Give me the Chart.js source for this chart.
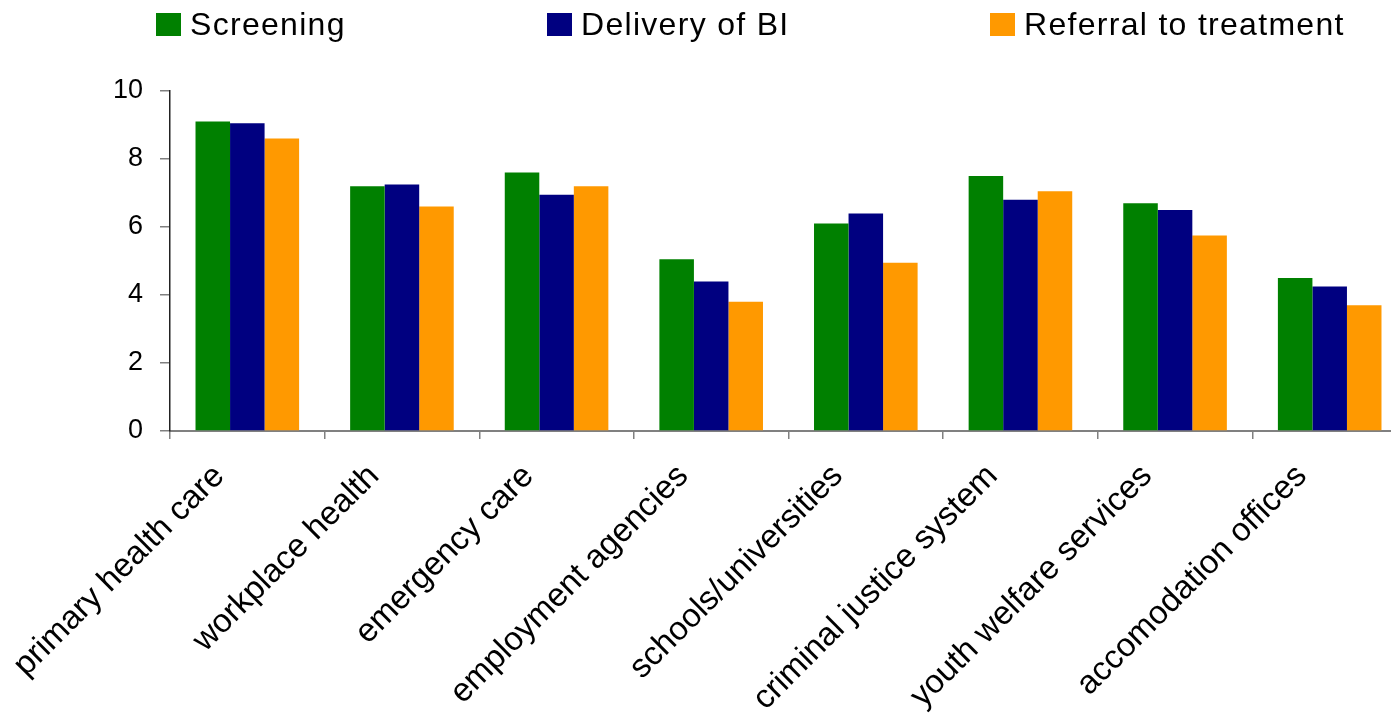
<!DOCTYPE html>
<html>
<head>
<meta charset="utf-8">
<style>
    html, body { margin: 0; padding: 0; overflow: hidden; background: #fff; }
    #wrap { position: relative; width: 1391px; height: 713px; overflow: hidden; }
    #chart { position: absolute; left: 0; top: 0; }
    .legend-item { position: absolute; top: 1px; height: 46px; display: flex; align-items: center;
        font-family: "Liberation Sans", Arial, sans-serif; font-size: 32px; letter-spacing: 1.3px; color: #000; }
    .legend-box { width: 25px; height: 23px; margin-right: 9px; }
</style>
</head>
<body>
<div id="wrap">
    <canvas id="chart" width="1410" height="713"></canvas>
    <div id="legend"></div>
</div>

<script src="https://cdn.jsdelivr.net/npm/chart.js"></script>
<script>
    // Categories and series
    const categories = ['primary health care', 'workplace health', 'emergency care', 'employment agencies',
        'schools/universities', 'criminal justice system', 'youth welfare services', 'accomodation offices'];
    const seriesNames = ['Screening', 'Delivery of BI', 'Referral to treatment'];
    const screening = [9.1, 7.2, 7.6, 5.05, 6.1, 7.5, 6.7, 4.5];
    const deliveryBI = [9.05, 7.25, 6.95, 4.4, 6.4, 6.8, 6.5, 4.25];
    const referral = [8.6, 6.6, 7.2, 3.8, 4.95, 7.05, 5.75, 3.7];
    const yTicks = [0, 2, 4, 6, 8, 10];

    const colors = ['#008000', '#000080', '#FF9900'];
    const values = [screening, deliveryBI, referral];
    const font = '"Liberation Sans", Arial, sans-serif';

    // html legend, spaced like the original
    const legendLeft = [156, 547, 990];
    const legend = document.getElementById('legend');
    seriesNames.forEach((name, i) => {
        const item = document.createElement('div');
        item.className = 'legend-item';
        item.style.left = legendLeft[i] + 'px';
        item.innerHTML = '<div class="legend-box" style="background:' + colors[i] + '"></div><span>' + name + '</span>';
        legend.appendChild(item);
    });

    const ctx = document.getElementById('chart').getContext('2d');
    new Chart(ctx, {
        type: 'bar',
        data: {
            labels: categories,
            datasets: seriesNames.map((name, i) => ({
                label: name,
                data: values[i],
                backgroundColor: colors[i],
                borderWidth: 0,
                categoryPercentage: 0.67,
                barPercentage: 1.0
            }))
        },
        options: {
            responsive: false,
            animation: false,
            layout: { padding: { top: 91, right: 3, left: 0, bottom: 0 } },
            plugins: {
                legend: { display: false },
                tooltip: { enabled: false }
            },
            scales: {
                x: {
                    afterFit: function (scale) { scale.height = 713 - 431; },
                    grid: {
                        offset: true,
                        drawOnChartArea: false,
                        color: '#808080',
                        tickLength: 8,
                        lineWidth: 1.5
                    },
                    border: { color: '#808080', width: 2 },
                    ticks: {
                        autoSkip: false,
                        maxRotation: 45,
                        minRotation: 45,
                        padding: 18,
                        labelOffset: -28,
                        color: '#000',
                        font: { family: font, size: 33 }
                    }
                },
                y: {
                    min: 0,
                    max: 10,
                    afterFit: function (scale) { scale.width = 170; },
                    afterBuildTicks: function (scale) {
                        scale.ticks = yTicks.map(v => ({ value: v }));
                    },
                    grid: {
                        drawOnChartArea: false,
                        color: '#808080',
                        tickLength: 10,
                        lineWidth: 1.5
                    },
                    border: { color: '#222', width: 1.5 },
                    ticks: {
                        padding: 17,
                        color: '#000',
                        font: { family: font, size: 27 }
                    }
                }
            }
        }
    });
</script>
</body>
</html>
